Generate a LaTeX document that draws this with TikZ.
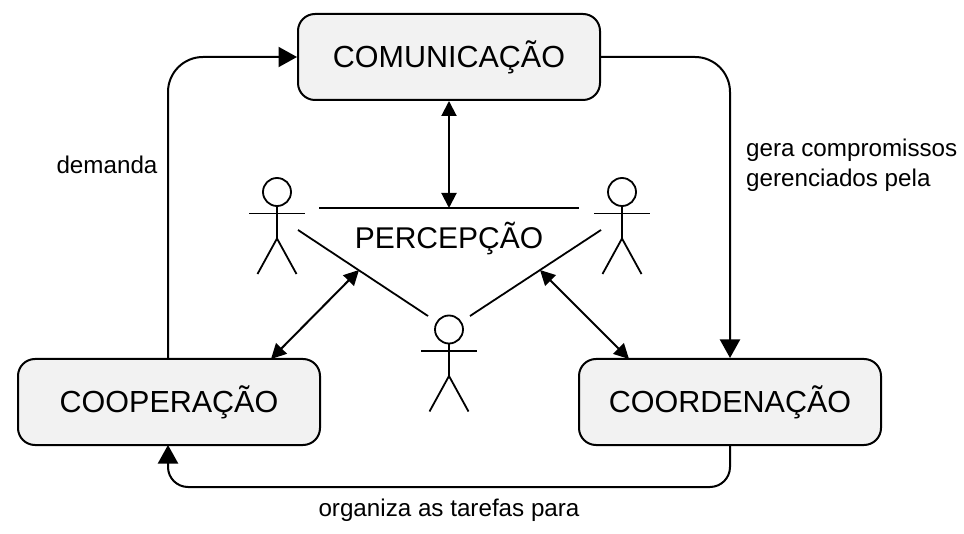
\documentclass[tikz,border=0pt]{standalone}
\usepackage{fontspec}
\setmainfont{Liberation Sans}
\usetikzlibrary{arrows.meta}
\tikzset{
  x=1pt,y=-1pt,
  box/.style={draw=black,line width=2pt,fill=black!5,rounded corners=17pt,minimum width=302pt,minimum height=86pt,inner sep=0pt,font=\fontsize{30.5}{36}\selectfont},
  biglabel/.style={font=\fontsize{30.5}{36}\selectfont,inner sep=0pt},
  lab/.style={font=\fontsize{24.2}{30}\selectfont,inner sep=0pt},
  flow/.style={line width=2pt,-{Triangle[length=18.5pt,width=20pt]}},
  both/.style={line width=2pt,{Triangle[length=15pt,width=15pt]}-{Triangle[length=15pt,width=15pt]}},
  plain/.style={line width=2pt},
  thin line/.style={line width=1.8pt},
  headc/.style={circle,draw=black,line width=1.8pt,minimum size=28pt,inner sep=0pt},
  pics/actor/.style={code={
    \node[headc] (-head) at (0,0) {};
    \coordinate (-hip) at (0,46.5);
    \coordinate (-la) at (-28,21.5);
    \coordinate (-ra) at (28,21.5);
    \coordinate (-ll) at (-19.5,82);
    \coordinate (-rl) at (19.5,82);
    \draw[thin line] (-head.south) -- (-hip);
    \draw[thin line] (-la) -- (-ra);
    \draw[thin line] (-ll) -- (-hip) -- (-rl);
  }}
}
\begin{document}
\begin{tikzpicture}
\useasboundingbox (0,0) rectangle (964,534);
\node[box] (com) at (449,57) {COMUNICAÇÃO};
\node[box] (coop) at (169,402) {COOPERAÇÃO};
\node[box] (coord) at (730,402) {COORDENAÇÃO};
\pic (pl) at (277,192) {actor};
\pic (pr) at (622,192) {actor};
\pic (pb) at (449,329.5) {actor};
\coordinate (ptl) at (319,208);
\coordinate (ptr) at (579,208);
\coordinate (ptm) at (449,208);
\coordinate (dll) at (298,230);
\coordinate (dlr) at (428,316);
\coordinate (drl) at (470,316);
\coordinate (drr) at (601,230);
\coordinate (dlm) at (359,270);
\coordinate (drm) at (540,270);
\draw[plain] (ptl) -- (ptr);
\draw[thin line] (dll) -- (dlr);
\draw[thin line] (drl) -- (drr);
\node[biglabel,font=\fontsize{30}{36}\selectfont] (perc) at (449,239) {PERCEPÇÃO};
\draw[both] (com.south) -- (ptm);
\draw[both] (dlm) -- (271,359);
\draw[both] (drm) -- (629,359);
\draw[flow,rounded corners=35pt] (168,359) -- (168,57) -- (com.west);
\draw[flow,rounded corners=35pt] (com.east) -- (730,57) -- (coord.north);
\draw[flow,rounded corners=20pt] (coord.south) -- (730,487) -- (168,487) -- (168,445);
\node[lab] (dem) at (107,165) {demanda};
\node[lab,align=left,anchor=west] (ger) at (746,165) {gera compromissos\\gerenciados pela};
\node[lab] (org) at (449,510) {organiza as tarefas para};
\end{tikzpicture}
\end{document}
